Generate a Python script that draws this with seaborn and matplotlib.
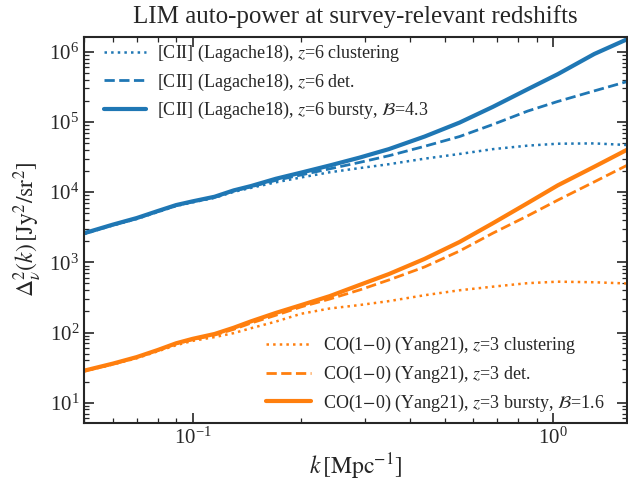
import matplotlib
matplotlib.use("Agg")
import matplotlib.pyplot as plt
import seaborn as sns
import pandas as pd

# wavenumber grid [1/Mpc]
k = [0.05, 0.06, 0.07, 0.08, 0.09, 0.1, 0.115, 0.13, 0.145, 0.17, 0.2,
     0.24, 0.29, 0.35, 0.44, 0.55, 0.68, 0.85, 1.03, 1.3, 1.6]

# [CII] Lagache18, z=6
cii_clust = [2530, 3350, 4150, 5200, 6350, 7150, 8300, 1.01e4, 1.15e4, 1.38e4, 1.62e4,
             1.92e4, 2.2e4, 2.5e4, 3.0e4, 3.5e4, 4.1e4, 4.6e4, 4.9e4, 4.95e4, 4.7e4]
cii_det = [2570, 3400, 4220, 5300, 6450, 7300, 8450, 1.04e4, 1.19e4, 1.47e4, 1.76e4,
           2.15e4, 2.65e4, 3.3e4, 4.5e4, 6.2e4, 9.2e4, 1.43e5, 1.96e5, 2.77e5, 3.75e5]
cii_burst = [2600, 3440, 4280, 5380, 6550, 7400, 8600, 1.06e4, 1.22e4, 1.55e4, 1.9e4,
             2.4e4, 3.1e4, 4.1e4, 6.2e4, 9.8e4, 1.64e5, 2.93e5, 4.8e5, 9.3e5, 1.5e6]

# CO(1-0) Yang21, z=3
co_clust = [28, 35, 43, 54, 66, 76, 86, 98, 115, 143, 185,
            220, 246, 280, 340, 400, 450, 505, 530, 520, 500]
co_det = [28.3, 35.5, 44, 55.5, 69, 79, 92, 111, 136, 176, 232,
          300, 403, 560, 860, 1450, 2600, 4600, 7700, 1.4e4, 2.4e4]
co_burst = [28.6, 36, 44.7, 56.3, 70.3, 81.3, 95.3, 117, 144, 190, 246,
            330, 475, 680, 1120, 1950, 3600, 7000, 1.25e4, 2.3e4, 4.0e4]

df = pd.DataFrame({"k": k,
                   "cii_clust": cii_clust, "cii_det": cii_det, "cii_burst": cii_burst,
                   "co_clust": co_clust, "co_det": co_det, "co_burst": co_burst})

sns.set_style("ticks")
plt.rcParams['font.family'] = ['Liberation Serif', 'DejaVu Serif']
plt.rcParams['mathtext.fontset'] = 'stix'
plt.rcParams['axes.linewidth'] = 1.5

blue = "#1f77b4"
orange = "#ff7f0e"

fig = plt.figure(figsize=(6.28, 4.83), dpi=100)
ax = fig.add_axes([0.134, 0.125, 0.864, 0.799])

sns.lineplot(data=df, x="k", y="cii_clust", ax=ax, color=blue, ls=":", lw=1.8,
             label=r"[CII] (Lagache18), $z$=6 clustering")
sns.lineplot(data=df, x="k", y="cii_det", ax=ax, color=blue, ls="--", lw=2.0,
             label=r"[CII] (Lagache18), $z$=6 det.")
sns.lineplot(data=df, x="k", y="cii_burst", ax=ax, color=blue, ls="-", lw=3.0,
             label=r"[CII] (Lagache18), $z$=6 bursty, $\mathcal{B}$=4.3")
sns.lineplot(data=df, x="k", y="co_clust", ax=ax, color=orange, ls=":", lw=1.8,
             label=r"CO(1$-$0) (Yang21), $z$=3 clustering")
sns.lineplot(data=df, x="k", y="co_det", ax=ax, color=orange, ls="--", lw=2.0,
             label=r"CO(1$-$0) (Yang21), $z$=3 det.")
sns.lineplot(data=df, x="k", y="co_burst", ax=ax, color=orange, ls="-", lw=3.0,
             label=r"CO(1$-$0) (Yang21), $z$=3 bursty, $\mathcal{B}$=1.6")

ax.set_xscale("log")
ax.set_yscale("log")
ax.set_xlim(0.05, 1.6)
ax.set_ylim(5.2, 1.64e6)

handles, labels = ax.get_legend_handles_labels()
leg1 = ax.legend(handles[:3], labels[:3], loc="upper left", frameon=False,
                 fontsize=13, handlelength=2.3, handletextpad=0.6, labelspacing=0.42,
                 borderaxespad=0.2, bbox_to_anchor=(0.017, 1.012))
ax.add_artist(leg1)
ax.legend(handles[3:], labels[3:], loc="lower right", frameon=False,
          fontsize=13, handlelength=2.5, handletextpad=0.7, labelspacing=0.42,
          borderaxespad=0.2, bbox_to_anchor=(0.98, -0.005))

ax.tick_params(which="both", direction="in", top=True, right=True, labelsize=15)
ax.tick_params(which="major", length=7, width=1.2)
ax.tick_params(which="minor", length=3.5, width=0.9)

ax.set_xlabel(r"$k\,[\mathrm{Mpc}^{-1}]$", fontsize=17, labelpad=2)
ax.set_ylabel(r"$\Delta^2_\nu(k)\,[\mathrm{Jy}^2/\mathrm{sr}^2]$", fontsize=17)
ax.set_title("LIM auto-power at survey-relevant redshifts", fontsize=18, pad=10)

fig.savefig("out.png", dpi=100)
